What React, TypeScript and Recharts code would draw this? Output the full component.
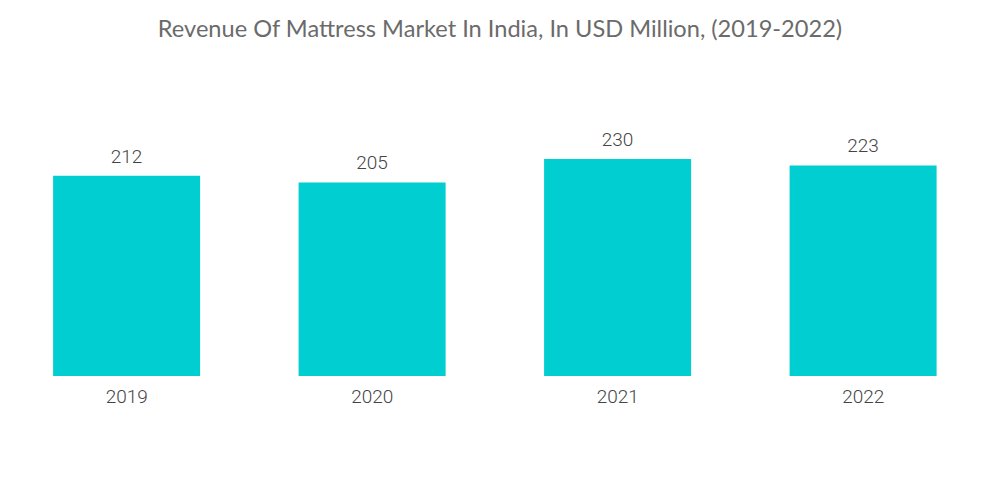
import { Bar, BarChart, LabelList, XAxis, YAxis } from 'recharts';

const years = ['2019', '2020', '2021', '2022'];
const revenue = [212, 205, 230, 223];

const data = years.map((year, i) => ({ year, revenue: revenue[i] }));

export default function App() {
  return (
    <div style={{ position: 'absolute', left: 0, top: 0, width: 1000, height: 504, background: '#fff' }}>
      <div
        style={{
          position: 'absolute',
          top: 14,
          left: 0,
          width: 1000,
          textAlign: 'center',
          fontFamily: 'Lato, "Open Sans", sans-serif',
          fontSize: 23.6,
          color: '#6b6b6b',
        }}
      >
        Revenue Of Mattress Market In India, In USD Million, (2019-2022)
      </div>
      <BarChart
        width={1000}
        height={504}
        data={data}
        margin={{ top: 140, right: 14, bottom: 98, left: 4 }}
        barCategoryGap="20%"
      >
        <XAxis
          dataKey="year"
          axisLine={false}
          tickLine={false}
          tick={{ fill: '#444', fontSize: 19, fontWeight: 300, fontFamily: 'Roboto, sans-serif' }}
          tickMargin={8}
        />
        <YAxis hide domain={[0, 250]} />
        <Bar dataKey="revenue" fill="#00ced1" isAnimationActive={false}>
          <LabelList
            dataKey="revenue"
            position="top"
            offset={13}
            style={{ fill: '#444', fontSize: 19, fontWeight: 300, fontFamily: 'Roboto, sans-serif' }}
          />
        </Bar>
      </BarChart>
    </div>
  );
}
